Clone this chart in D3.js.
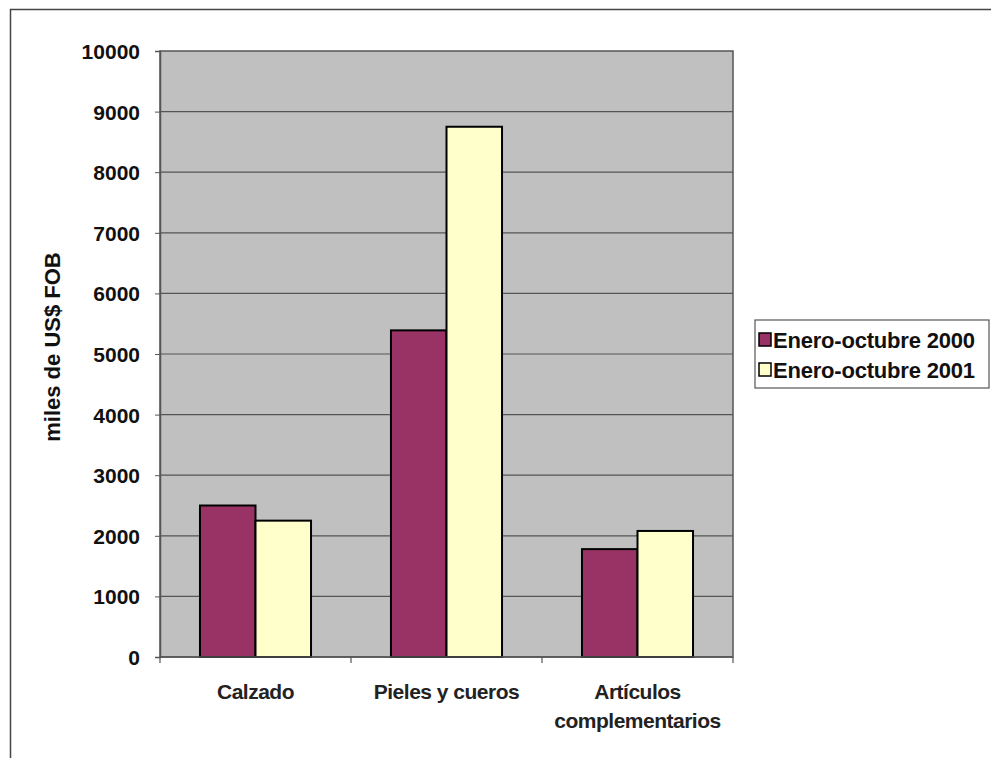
<!DOCTYPE html>
<html><head><meta charset="utf-8">
<script src="https://cdn.jsdelivr.net/npm/d3@7"></script>
<style>body{margin:0;background:#fff}svg{display:block}</style>
</head><body>
<svg id="c" width="991" height="758"></svg>
<script>
const categories = [["Calzado"], ["Pieles y cueros"], ["Artículos", "complementarios"]];
const seriesNames = ["Enero-octubre 2000", "Enero-octubre 2001"];
const values2000 = [2500, 5390, 1780];
const values2001 = [2250, 8750, 2080];
const yTicks = [0,1000,2000,3000,4000,5000,6000,7000,8000,9000,10000];
const colors = ["#993366", "#FFFFCC"];

const svg = d3.select("#c");
const font = "'Liberation Sans', Arial, sans-serif";
// outer frame
svg.append("rect").attr("x",10.5).attr("y",9.5).attr("width",1000).attr("height",800)
  .attr("fill","#fff").attr("stroke","#444").attr("stroke-width",1.5);

const L=160, R=733, T=51, B=657;
const x0 = d3.scaleBand().domain(d3.range(categories.length)).range([L,R]).paddingInner(0).paddingOuter(0);
const x1 = d3.scaleBand().domain([0,1]).range([0, x0.bandwidth()]).paddingOuter(0.72).paddingInner(0);
const y = d3.scaleLinear().domain([0,10000]).range([B,T]);

svg.append("rect").attr("x",L).attr("y",T).attr("width",R-L).attr("height",B-T)
  .attr("fill","#c0c0c0").attr("stroke","#555").attr("stroke-width",1.5);

// gridlines
svg.append("g").selectAll("line").data(yTicks.slice(1,-1)).join("line")
  .attr("x1",L).attr("x2",R).attr("y1",d=>y(d)).attr("y2",d=>y(d))
  .attr("stroke","#555").attr("stroke-width",1.2);

// bars
const data = categories.map((c,i)=>[values2000[i], values2001[i]]);
const g = svg.append("g");
data.forEach((vals,i)=>{
  vals.forEach((v,s)=>{
    g.append("rect").attr("x", x0(i)+x1(s)).attr("y", y(v))
      .attr("width", x1.bandwidth()).attr("height", B - y(v))
      .attr("fill", colors[s]).attr("stroke","#000").attr("stroke-width",2);
  });
});

// y axis
const ya = svg.append("g").attr("transform",`translate(${L},0)`)
  .call(d3.axisLeft(y).tickValues(yTicks).tickSize(5).tickPadding(15).tickFormat(d3.format("d")));
ya.select(".domain").attr("stroke","#555").attr("stroke-width",1.5);
ya.selectAll(".tick line").attr("stroke","#555");
ya.selectAll("text").attr("font-family",font).attr("font-size",21).attr("font-weight","bold").attr("fill","#111").attr("dy","0.36em");

// x axis
const xa = svg.append("g").attr("transform",`translate(0,${B})`);
xa.append("line").attr("x1",L).attr("x2",R).attr("stroke","#555").attr("stroke-width",1.5);
xa.selectAll(".tk").data(d3.range(categories.length+1)).join("line")
  .attr("x1",d=>L + d*x0.bandwidth()).attr("x2",d=>L + d*x0.bandwidth())
  .attr("y1",0).attr("y2",6).attr("stroke","#555").attr("stroke-width",1.2);
categories.forEach((lines,i)=>{
  const cx = x0(i)+x0.bandwidth()/2;
  const t = xa.append("text").attr("x", cx).attr("y", 42)
    .attr("text-anchor","middle").attr("font-family",font).attr("font-size",21)
    .attr("font-weight","bold").attr("fill","#222").style("letter-spacing","-0.5px");
  lines.forEach((ln,k)=> t.append("tspan").attr("x", cx).attr("dy", k?29:0).text(ln));
});

// y label
svg.append("text").attr("transform","translate(60,347) rotate(-90)")
  .attr("text-anchor","middle").attr("font-family",font).attr("font-size",22)
  .attr("font-weight","bold").attr("fill","#111").text("miles de US$ FOB");

// legend
const lg = svg.append("g");
lg.append("rect").attr("x",755).attr("y",320).attr("width",234).attr("height",68)
  .attr("fill","#fff").attr("stroke","#555").attr("stroke-width",1.2);
seriesNames.forEach((n,i)=>{
  const yy = 340 + i*30;
  lg.append("rect").attr("x",759).attr("y",yy-7).attr("width",12).attr("height",13)
    .attr("fill",colors[i]).attr("stroke","#000").attr("stroke-width",1.5);
  lg.append("text").attr("x",773).attr("y",yy+8).attr("font-family",font).attr("font-size",22)
    .attr("font-weight","bold").attr("fill","#111").style("letter-spacing","-0.2px").text(n);
});
</script>
</body></html>
